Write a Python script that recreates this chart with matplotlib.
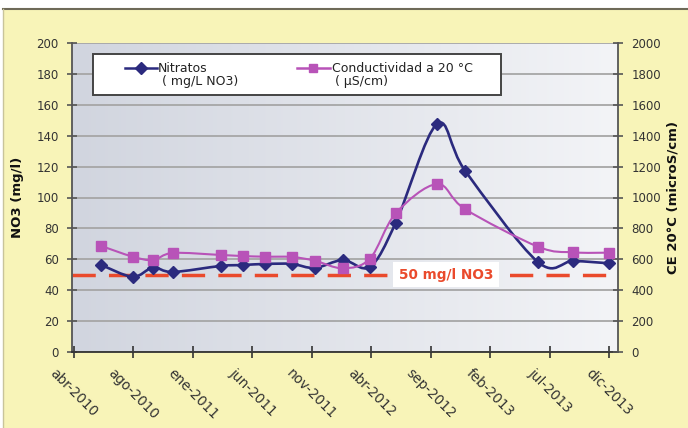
import numpy as np
import pandas as pd
import matplotlib
matplotlib.use('Agg')
import matplotlib.pyplot as plt
import matplotlib.dates as mdates
from matplotlib.path import Path
from matplotlib.patches import PathPatch, Rectangle
from matplotlib.colors import LinearSegmentedColormap

# Sampling dates and values
fechas = ['2010-06-10', '2010-08-28', '2010-10-18', '2010-12-07', '2011-04-07',
          '2011-06-02', '2011-07-27', '2011-10-03', '2011-11-30', '2012-02-09',
          '2012-04-17', '2012-06-21', '2012-10-03', '2012-12-13', '2013-06-14',
          '2013-09-11', '2013-12-11']
nitratos = [56.3, 48.7, 54.6, 51.8, 55.7, 56.3, 57.0, 57.0, 54.4, 59.5,
            55.2, 83.7, 147.6, 117.2, 58.3, 58.9, 57.4]
conductividad = [686, 617, 595, 641, 628, 621, 617, 615, 591, 542,
                 605, 898, 1087, 924, 682, 645, 643]
tick_labels = ['abr-2010', 'ago-2010', 'ene-2011', 'jun-2011', 'nov-2011',
               'abr-2012', 'sep-2012', 'feb-2013', 'jul-2013', 'dic-2013']
limite_no3 = 50

NAVY = '#2b2a7e'
PINK = '#b853b8'
RED = '#ea4a2c'
YELLOW = '#f8f4b8'


def smooth_path(x, y):
    # Excel-like smoothed line: cubic bezier through every point
    x = np.asarray(x, float)
    y = np.asarray(y, float)
    n = len(x)
    verts = [(x[0], y[0])]
    codes = [Path.MOVETO]
    for i in range(n - 1):
        xa, ya = (x[i-1], y[i-1]) if i > 0 else (x[i], y[i])
        xb, yb = (x[i+2], y[i+2]) if i + 2 < n else (x[i+1], y[i+1])
        c1 = (x[i] + (x[i+1] - xa) / 6, y[i] + (y[i+1] - ya) / 6)
        c2 = (x[i+1] - (xb - x[i]) / 6, y[i+1] - (yb - y[i]) / 6)
        verts += [c1, c2, (x[i+1], y[i+1])]
        codes += [Path.CURVE4] * 3
    return Path(verts, codes)


xd = mdates.date2num(pd.to_datetime(fechas))
t0 = mdates.date2num(pd.Timestamp('2010-04-01'))
ticks = [t0 + 150 * i for i in range(len(tick_labels))]

fig = plt.figure(figsize=(6.88, 4.28), dpi=100, facecolor='white')
# yellow chart area with its border
fig.patches.append(Rectangle((3 / 688, 0), 1, 1 - 9 / 428, transform=fig.transFigure,
                             facecolor=YELLOW, edgecolor='none', zorder=-5))
fig.lines.append(plt.Line2D([3 / 688, 1], [1 - 9 / 428] * 2, transform=fig.transFigure,
                            color='#6e6a58', lw=1.5))
fig.lines.append(plt.Line2D([3 / 688] * 2, [0, 1 - 9 / 428], transform=fig.transFigure,
                            color='#c9c49a', lw=1.0))

ax = fig.add_axes([72 / 688, 76 / 428, 546 / 688, 309 / 428])
ax.set_facecolor('none')
grad = LinearSegmentedColormap.from_list('bg', ['#d1d5df', '#f3f4f7'])
ax.imshow(np.linspace(0, 1, 256).reshape(1, -1), cmap=grad, aspect='auto',
          extent=[0, 1, 0, 1], transform=ax.transAxes, zorder=-1)

ax.set_xlim(t0 - 4, t0 + 1372)
ax.set_ylim(0, 200)
ax.set_yticks(range(0, 201, 20))
ax.yaxis.grid(True, color='#a6a6a6', lw=1.3)
ax.set_axisbelow(True)

ax.axhline(limite_no3, color=RED, lw=2.5, dashes=(6.7, 3.8), zorder=2)
ax.text(0.685, limite_no3, '50 mg/l NO3', transform=ax.get_yaxis_transform(),
        color=RED, fontsize=9.8, fontweight='bold', ha='center', va='center',
        bbox=dict(facecolor='white', edgecolor='none', pad=4), zorder=3)

ax.add_patch(PathPatch(smooth_path(xd, nitratos), fill=False, edgecolor=NAVY,
                       lw=1.9, zorder=4))
ax.plot(xd, nitratos, linestyle='none', marker='D', markersize=6.5,
        color=NAVY, zorder=5)

ax.set_xticks(ticks)
ax.set_xticklabels(tick_labels, rotation=-45, ha='center', va='top',
                   fontsize=9.8, color='#333333')
ax.tick_params(axis='x', direction='inout', length=8, width=1.2, color='#333333', pad=6)
ax.tick_params(axis='y', direction='inout', length=7, width=1.2, color='#555555',
               labelsize=8.5, labelcolor='#333333', pad=6)
for s in ['top', 'right']:
    ax.spines[s].set_visible(False)
ax.spines['left'].set_color('#555555')
ax.spines['left'].set_linewidth(1.3)
ax.spines['bottom'].set_color('#333333')
ax.spines['bottom'].set_linewidth(1.3)
ax.set_ylabel('NO3 (mg/l)', fontsize=9.5, fontweight='bold', color='#111111')
ax.yaxis.set_label_coords(-0.088, 0.5)

ax2 = ax.twinx()
ax2.set_ylim(0, 2000)
ax2.set_yticks(range(0, 2001, 200))
ax2.add_patch(PathPatch(smooth_path(xd, conductividad), fill=False, edgecolor=PINK,
                        lw=1.5, zorder=4))
ax2.plot(xd, conductividad, linestyle='none', marker='s', markersize=6.8,
         color=PINK, zorder=5)
ax2.set_xlim(ax.get_xlim())
for s in ['top', 'left', 'bottom']:
    ax2.spines[s].set_visible(False)
ax2.spines['right'].set_color('#555555')
ax2.spines['right'].set_linewidth(1.3)
ax2.tick_params(axis='y', direction='inout', length=7, width=1.2, color='#555555',
                labelsize=8.5, labelcolor='#333333', pad=6)
ax2.set_ylabel('CE 20°C (microS/cm)', fontsize=9.5, fontweight='bold', color='#111111')
ax2.yaxis.set_label_coords(1.088, 0.5)

# legend drawn by hand to keep the two-line labels as in the original
ax2.add_patch(Rectangle((0.0385, 0.832), 0.747, 0.132, transform=ax2.transAxes,
                        facecolor='white', edgecolor='#444444', lw=1.4, zorder=10))
entries = [(0.097, 0.1557, 0.1264, 0.1575, 0.165, NAVY, 'D', 'Nitratos', '( mg/L NO3)'),
           (0.412, 0.4725, 0.4414, 0.476, 0.4817, PINK, 's', 'Conductividad a 20 °C', '( µS/cm)')]
for x1, x2, xm, xt, xt2, col, mk, lab1, lab2 in entries:
    ax2.plot([x1, x2], [0.919, 0.919], transform=ax2.transAxes, color=col, lw=1.8, zorder=11)
    ax2.plot([xm], [0.919], transform=ax2.transAxes, color=col, marker=mk,
             markersize=6, zorder=12)
    ax2.text(xt, 0.919, lab1, transform=ax2.transAxes, fontsize=9, color='#222222',
             va='center', ha='left', zorder=12)
    ax2.text(xt2, 0.874, lab2, transform=ax2.transAxes, fontsize=9, color='#222222',
             va='center', ha='left', zorder=12)

fig.savefig('out.png', dpi=100, facecolor=fig.get_facecolor())
